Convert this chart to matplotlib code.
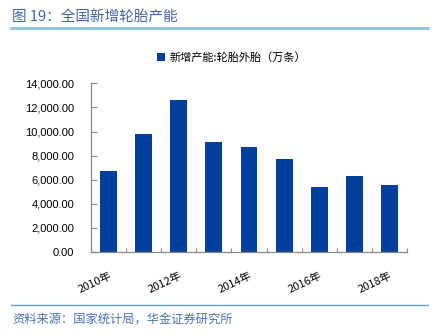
import matplotlib
matplotlib.use("Agg")
import matplotlib.pyplot as plt
from matplotlib.lines import Line2D
from matplotlib.ticker import FuncFormatter, FixedLocator

plt.rcParams['font.family'] = ['Noto Sans CJK SC', 'DejaVu Sans']

years = ["2010年", "2011年", "2012年", "2013年", "2014年", "2015年", "2016年", "2017年", "2018年"]
values = [6750, 9800, 12600, 9150, 8700, 7700, 5400, 6300, 5550]
series_name = "新增产能:轮胎外胎（万条）"
title = "图 19：全国新增轮胎产能"
source = "资料来源：国家统计局，华金证券研究所"

bar_color = "#00409A"
fig = plt.figure(figsize=(4.44, 3.36), dpi=100)
ax = fig.add_axes([91/444, 84/336, 316/444, (252-83.3)/336])

x = list(range(len(years)))
ax.bar(x, values, width=0.48, color=bar_color, label=series_name, zorder=2)
ax.set_xlim(-0.5, len(years) - 0.5)
ax.set_ylim(0, 14000)
ax.yaxis.set_major_locator(FixedLocator(range(0, 14001, 2000)))
ax.yaxis.set_major_formatter(FuncFormatter(lambda v, p: f"{v:,.2f}"))
for lab in ax.get_yticklabels():
    lab.set_family(['Liberation Sans', 'DejaVu Sans'])
ax.tick_params(axis='y', direction='in', length=4, width=0.8, color='#888888', labelsize=8, pad=12)

ax.set_xticks([i - 0.5 for i in range(len(years) + 1)], minor=True)
ax.set_xticks(x[::2])
ax.set_xticklabels(years[::2], rotation=25, ha='right', rotation_mode='anchor', fontsize=8)
ax.tick_params(axis='x', which='major', length=0, pad=13)
ax.tick_params(axis='x', which='minor', direction='in', length=3, width=0.8, color='#888888')

for s in ['top', 'right']:
    ax.spines[s].set_visible(False)
for s in ['left', 'bottom']:
    ax.spines[s].set_color('#888888')
    ax.spines[s].set_linewidth(0.9)

leg = ax.legend(loc='lower left', bbox_to_anchor=(157/444, (336-63)/336), bbox_transform=fig.transFigure,
                frameon=False, fontsize=8, handlelength=0.75, handleheight=0.8, handletextpad=0.35,
                borderaxespad=0, borderpad=0)

fig.text(12/444, 1 - 17/336, title, fontsize=10.5, color='#3F65A6', va='center', ha='left')
fig.add_artist(Line2D([11/444, 428/444], [1 - 27.5/336, 1 - 27.5/336], color='#92C5DE', lw=2.2,
                      transform=fig.transFigure))
fig.add_artist(Line2D([11/444, 428/444], [1 - 305/336, 1 - 305/336], color='#5BA8E0', lw=1.0,
                      transform=fig.transFigure))
fig.text(12/444, 1 - 320/336, source, fontsize=8.8, color='#4A72B0', va='center', ha='left', style='italic')

fig.savefig("out.png", dpi=100)
